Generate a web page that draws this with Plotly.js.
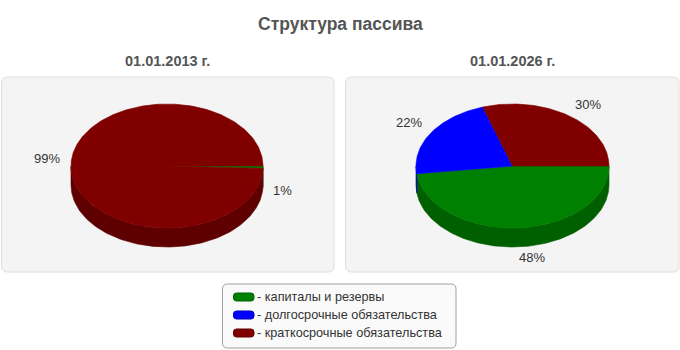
<!DOCTYPE html>
<html><head><meta charset="utf-8">
<script src="https://cdn.plot.ly/plotly-3.0.1.min.js"></script>
<style>html,body{margin:0;padding:0;background:#fff}</style>
</head><body>
<div id="chart" style="width:680px;height:350px"></div>
<script>
// ---- data ----
const chartTitle = 'Структура пассива';
const categories = ['капиталы и резервы', 'долгосрочные обязательства', 'краткосрочные обязательства'];
const periods = ['01.01.2013 г.', '01.01.2026 г.'];
const values2013 = [0.6, 0, 99.4];
const values2026 = [48, 22, 30];

// ---- styles ----
const topColors = ['#008000', '#0000ff', '#800000'];
const sideColors = ['#006000', '#0000b4', '#5f0000'];
const FONT = 'Liberation Sans, Arial, sans-serif';
const W = 680, H = 350;

const pies = [
  {title: periods[0], values: values2013, cx: 167, cy: 166, rx: 96, ry: 62, depth: 19, panel: [1.5, 77, 334, 272]},
  {title: periods[1], values: values2026, cx: 512.5, cy: 166, rx: 96.5, ry: 62, depth: 19, panel: [345.5, 77, 679, 272]}
];

function roundRect(x0, y0, x1, y1, r) {
  return `M${x0+r},${y0} L${x1-r},${y0} Q${x1},${y0} ${x1},${y0+r} L${x1},${y1-r} Q${x1},${y1} ${x1-r},${y1} L${x0+r},${y1} Q${x0},${y1} ${x0},${y1-r} L${x0},${y0+r} Q${x0},${y0} ${x0+r},${y0} Z`;
}

const sideTraces = [], topTraces = [], annotations = [], shapes = [];

annotations.push({x: W/2, y: 24, xref: 'x', yref: 'y', text: chartTitle, showarrow: false,
  font: {family: FONT, size: 17.5, color: '#555', weight: 'bold'}});

pies.forEach(p => {
  const total = p.values.reduce((a, b) => a + b, 0);
  const [px0, py0, px1, py1] = p.panel;
  shapes.push({type: 'path', xref: 'x', yref: 'y', path: roundRect(px0, py0, px1, py1, 6),
    fillcolor: '#f4f4f4', line: {color: '#dedede', width: 1}, layer: 'below'});
  annotations.push({x: p.cx, y: 60.5, xref: 'x', yref: 'y', text: p.title, showarrow: false,
    font: {family: FONT, size: 14.5, color: '#555', weight: 'bold'}});

  let start = 0;
  p.values.forEach((v, i) => {
    if (v <= 0) return;
    const sweep = v / total * 2 * Math.PI;
    const a1 = start, a2 = start + sweep;
    start = a2;
    const n = Math.max(2, Math.ceil(sweep / (2 * Math.PI) * 360));
    // top face
    const tx = [p.cx], ty = [p.cy];
    for (let k = 0; k <= n; k++) {
      const t = a1 + (a2 - a1) * k / n;
      tx.push(p.cx + p.rx * Math.cos(t));
      ty.push(p.cy + p.ry * Math.sin(t));
    }
    tx.push(p.cx); ty.push(p.cy);
    topTraces.push({type: 'scatter', mode: 'lines', x: tx, y: ty, fill: 'toself',
      fillcolor: topColors[i], line: {color: topColors[i], width: 0.6}, hoverinfo: 'skip', showlegend: false});
    // front side (visible part: angles 0..PI)
    const s1 = Math.max(a1, 0), s2 = Math.min(a2, Math.PI);
    if (s2 > s1) {
      const m = Math.max(2, Math.ceil((s2 - s1) / (2 * Math.PI) * 360));
      const sx = [], sy = [];
      for (let k = 0; k <= m; k++) {
        const t = s1 + (s2 - s1) * k / m;
        sx.push(p.cx + p.rx * Math.cos(t));
        sy.push(p.cy + p.ry * Math.sin(t));
      }
      for (let k = m; k >= 0; k--) {
        const t = s1 + (s2 - s1) * k / m;
        sx.push(p.cx + p.rx * Math.cos(t));
        sy.push(p.cy + p.ry * Math.sin(t) + p.depth);
      }
      sx.push(sx[0]); sy.push(sy[0]);
      sideTraces.push({type: 'scatter', mode: 'lines', x: sx, y: sy, fill: 'toself',
        fillcolor: sideColors[i], line: {color: sideColors[i], width: 0.6}, hoverinfo: 'skip', showlegend: false});
    }
    // label
    const mid = (a1 + a2) / 2, c = Math.cos(mid), s = Math.sin(mid);
    const lx = p.cx + 1.1 * p.rx * c;
    const ly = p.cy + 1.1 * p.ry * s + (s > 0 ? p.depth + 4 : -6.5);
    annotations.push({x: lx, y: ly, xref: 'x', yref: 'y', showarrow: false,
      text: Math.round(v / total * 100) + '%',
      xanchor: c >= 0 ? 'left' : 'right', yanchor: 'middle',
      xshift: c >= 0 ? -2 : 1,
      font: {family: FONT, size: 13, color: '#333'}});
  });
});

// legend box
shapes.push({type: 'path', xref: 'x', yref: 'y', path: roundRect(222.5, 284, 456, 348, 5),
  fillcolor: '#fafafa', line: {color: '#a0a0a0', width: 1}, layer: 'below'});
categories.forEach((cat, i) => {
  const yc = 297 + i * 18;
  shapes.push({type: 'path', xref: 'x', yref: 'y', path: roundRect(233.5, yc - 4, 254, yc + 4, 3),
    fillcolor: topColors[i], line: {color: sideColors[i], width: 1}});
  annotations.push({x: 255, y: yc, xref: 'x', yref: 'y', showarrow: false, xanchor: 'left', yanchor: 'middle',
    text: '- ' + cat, font: {family: FONT, size: 12.7, color: '#333'}});
});

const axis = {visible: false, showgrid: false, zeroline: false, fixedrange: true};
Plotly.newPlot('chart', sideTraces.concat(topTraces), {
  width: W, height: H, margin: {l: 0, r: 0, t: 0, b: 0},
  paper_bgcolor: '#fff', plot_bgcolor: 'rgba(0,0,0,0)',
  xaxis: Object.assign({range: [0, W], domain: [0, 1]}, axis),
  yaxis: Object.assign({range: [H, 0], domain: [0, 1]}, axis),
  shapes: shapes, annotations: annotations, showlegend: false
}, {staticPlot: true});
</script>
</body></html>
